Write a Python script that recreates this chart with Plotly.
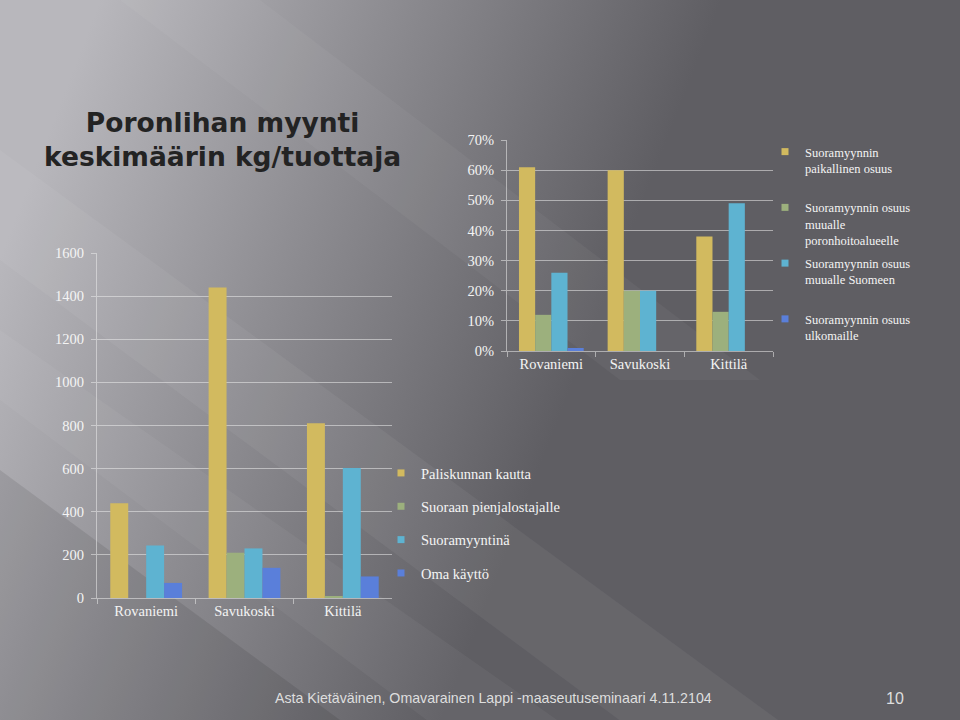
import base64
import plotly.graph_objects as go

# --- data -------------------------------------------------------------
places = ["Rovaniemi", "Savukoski", "Kittilä"]

# keskimäärin kg / tuottaja
kg_series = ["Paliskunnan kautta", "Suoraan pienjalostajalle", "Suoramyyntinä", "Oma käyttö"]
kg_paliskunta = [440, 1440, 810]
kg_pienjalostaja = [0, 210, 5]
kg_suoramyynti = [243, 230, 603]
kg_oma = [70, 140, 100]

# suoramyynnin jakauma (osuus)
share_series = [
    "Suoramyynnin<br>paikallinen osuus<br> ",
    "Suoramyynnin osuus<br>muualle<br>poronhoitoalueelle",
    "Suoramyynnin osuus<br>muualle Suomeen<br> ",
    "Suoramyynnin osuus<br>ulkomaille<br> ",
]
share_paikallinen = [0.61, 0.60, 0.38]
share_poronhoito = [0.12, 0.20, 0.13]
share_suomi = [0.26, 0.20, 0.49]
share_ulkomaat = [0.01, 0.0, 0.0]

colors = ["#D2BA5F", "#9CB07D", "#5EB3D1", "#5A7FDA"]

W, H = 960, 720

# --- slide background (gradient with diagonal streaks) ----------------
svg = f"""<svg xmlns='http://www.w3.org/2000/svg' width='{W}' height='{H}' viewBox='0 0 {W} {H}' preserveAspectRatio='none'>
<defs>
<linearGradient id='g' gradientUnits='userSpaceOnUse' x1='100' y1='0' x2='640' y2='210'>
<stop offset='0' stop-color='#b8b7bc'/>
<stop offset='0.45' stop-color='#8f8e93'/>
<stop offset='1' stop-color='#5f5e63'/>
</linearGradient>
</defs>
<rect width='{W}' height='{H}' fill='url(#g)'/>
<polygon points='0,150 0,260 700,780 860,780' fill='#ffffff' opacity='0.05'/>
<polygon points='0,330 0,400 560,820 700,820' fill='#ffffff' opacity='0.045'/>
<polygon points='120,0 260,0 760,380 620,380' fill='#ffffff' opacity='0.04'/>
<polygon points='0,470 0,720 340,720' fill='#000000' opacity='0.09'/>
</svg>"""
bg = "data:image/svg+xml;base64," + base64.b64encode(svg.encode()).decode()

fig = go.Figure()

kg_values = [kg_paliskunta, kg_pienjalostaja, kg_suoramyynti, kg_oma]
for name, vals, c in zip(kg_series, kg_values, colors):
    fig.add_trace(go.Bar(x=places, y=vals, marker=dict(color=c, line=dict(width=0)),
                         name=name, showlegend=False, xaxis="x", yaxis="y"))
    fig.add_trace(go.Scatter(x=[None], y=[None], mode="markers",
                             marker=dict(symbol="square", size=7, color=c),
                             name=name, legend="legend", legendgroup=name,
                             xaxis="x", yaxis="y"))

share_values = [share_paikallinen, share_poronhoito, share_suomi, share_ulkomaat]
for name, vals, c in zip(share_series, share_values, colors):
    fig.add_trace(go.Bar(x=places, y=vals, marker=dict(color=c, line=dict(width=0)),
                         name=name, showlegend=False, xaxis="x2", yaxis="y2"))
    fig.add_trace(go.Scatter(x=[None], y=[None], mode="markers",
                             marker=dict(symbol="square", size=7, color=c),
                             name=name, legend="legend2", legendgroup=name,
                             xaxis="x2", yaxis="y2"))

serif = "Liberation Serif, Times New Roman, serif"
tick_font = dict(family=serif, size=14.5, color="#f4f4f4")
grid = "rgba(235,235,235,0.55)"
title_font = dict(family="DejaVu Sans, sans-serif", size=26.5, color="#232323", weight="bold")
foot_font = dict(family="Liberation Sans, Arial, sans-serif", size=14.2, color="#dedede")

fig.update_layout(
    width=W, height=H,
    margin=dict(l=0, r=0, t=0, b=0, autoexpand=False),
    paper_bgcolor="#5f5e63",
    plot_bgcolor="rgba(0,0,0,0)",
    barmode="group",
    bargap=0.27,
    bargroupgap=0,
    images=[dict(source=bg, xref="paper", yref="paper", x=0, y=1,
                 sizex=1, sizey=1, sizing="stretch", layer="below")],
    xaxis=dict(domain=[97 / W, 392 / W], anchor="y", tickfont=tick_font,
               showline=True, linecolor=grid, ticks="outside", tickson="boundaries",
               ticklen=5, tickcolor=grid, showgrid=False, automargin=False),
    yaxis=dict(domain=[1 - 598 / H, 1 - 253 / H], anchor="x", range=[0, 1600],
               dtick=200, tickfont=tick_font, showline=True, linecolor=grid,
               ticks="outside", ticklen=5, tickcolor=grid, gridcolor=grid,
               zeroline=False, ticklabelstandoff=4, automargin=False),
    xaxis2=dict(domain=[507 / W, 773 / W], anchor="y2", tickfont=tick_font,
                showline=True, linecolor=grid, ticks="outside", tickson="boundaries",
                ticklen=5, tickcolor=grid, showgrid=False, automargin=False),
    yaxis2=dict(domain=[1 - 351 / H, 1 - 140 / H], anchor="x2", range=[0, 0.7],
                dtick=0.1, tickformat=".0%", tickfont=tick_font, showline=True,
                linecolor=grid, ticks="outside", ticklen=5, tickcolor=grid,
                gridcolor=grid, zeroline=False, ticklabelstandoff=4, automargin=False),
    legend=dict(x=381 / W, y=1 - 457 / H, xanchor="left", yanchor="top",
                bgcolor="rgba(0,0,0,0)", font=dict(family=serif, size=14.5, color="#f4f4f4"),
                tracegroupgap=11.5, itemwidth=30, traceorder="grouped"),
    legend2=dict(x=765 / W, y=1 - 137 / H, xanchor="left", yanchor="top",
                 bgcolor="rgba(0,0,0,0)", font=dict(family=serif, size=12.5, color="#f4f4f4"),
                 tracegroupgap=4, itemwidth=30, traceorder="grouped", valign="top"),
    annotations=[
        dict(text="Poronlihan myynti<br>keskimäärin kg/tuottaja", xref="paper", yref="paper",
             x=222 / W, y=1 - 139.5 / H, xanchor="center", yanchor="middle", showarrow=False,
             font=title_font),
        dict(text="Asta Kietäväinen, Omavarainen Lappi -maaseutuseminaari 4.11.2104",
             xref="paper", yref="paper", x=273 / W, y=1 - 698 / H, xanchor="left",
             yanchor="middle", showarrow=False, font=foot_font),
        dict(text="10", xref="paper", yref="paper", x=895 / W, y=1 - 698 / H,
             xanchor="center", yanchor="middle", showarrow=False,
             font=dict(foot_font, size=16)),
    ],
)

fig.write_html("out.html", config={"displayModeBar": False},
               post_script="document.body.style.margin='0px';")
